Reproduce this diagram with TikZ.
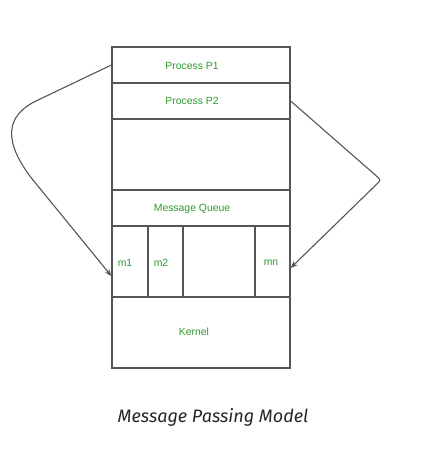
\documentclass[tikz,border=0pt]{standalone}
\usepackage{fontspec}
\setmainfont{Liberation Sans}
\newfontfamily\capfont{Fira Sans}
\usetikzlibrary{arrows.meta}
\definecolor{lbl}{HTML}{2E9A2E}
\definecolor{edge}{HTML}{555555}
\tikzset{
  box/.style={draw=edge, line width=1.3pt, inner sep=0pt},
  lab/.style={text=lbl, font=\fontsize{10.4}{12}\selectfont, inner sep=0pt},
  conn/.style={draw=edge, line width=1.1pt, -{Stealth[length=7pt,width=5.5pt]}}
}
\begin{document}
\begin{tikzpicture}[x=1pt,y=-1pt]
\useasboundingbox (0,0) rectangle (429,451);
% boxes
\node[box, minimum width=178pt, minimum height=36pt] (p1) at (201,65) {};
\node[box, minimum width=178pt, minimum height=36pt] (p2) at (201,101) {};
\node[box, minimum width=178pt, minimum height=71pt] (free) at (201,154.5) {};
\node[box, minimum width=178pt, minimum height=36pt] (mq) at (201,208) {};
\node[box, minimum width=36pt, minimum height=71pt] (m1) at (130,261.5) {};
\node[box, minimum width=35pt, minimum height=71pt] (m2) at (165.5,261.5) {};
\node[box, minimum width=72pt, minimum height=71pt] (gap) at (219,261.5) {};
\node[box, minimum width=35pt, minimum height=71pt] (mn) at (272.5,261.5) {};
\node[box, minimum width=178pt, minimum height=71pt] (kern) at (201,332.5) {};
% labels
\node[lab] (tp1) at (192,66) {Process P1};
\node[lab] (tp2) at (192,101) {Process P2};
\node[lab] (tmq) at (192,209) {Message Queue};
\node[lab] (tm1) at (125,263) {m1};
\node[lab] (tm2) at (161,263) {m2};
\node[lab] (tmn) at (271,263) {mn};
\node[lab] (tk) at (194,332) {Kernel};
% connectors
\coordinate (la) at (36,101);
\coordinate (lb) at (33,180);
\coordinate (rbend) at (381,180);
\draw[conn] (p1.west) -- (la) .. controls (5,116) and (3,142) .. (lb) -- (m1.west |- 0,276);
\draw[conn, rounded corners=3pt] (p2.east) -- (rbend) -- (mn.east |- 0,268);
% caption
\node[font=\capfont\itshape\fontsize{18}{21}\selectfont, text=black!85] (cap) at (213,417) {Message Passing Model};
\end{tikzpicture}
\end{document}
